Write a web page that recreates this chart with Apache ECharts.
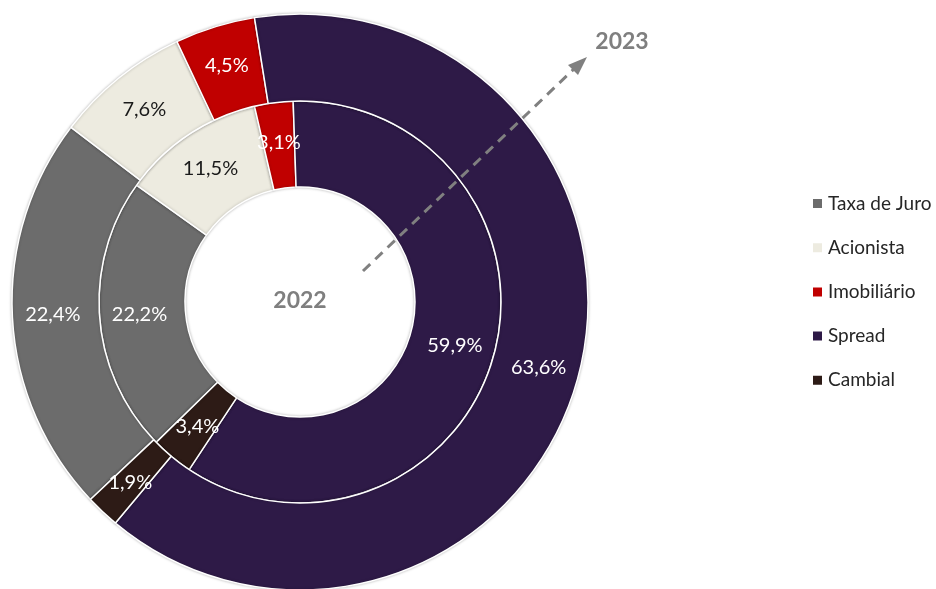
<!DOCTYPE html>
<html>
<head>
<meta charset="utf-8">
<script src="https://cdn.jsdelivr.net/npm/echarts@6/dist/echarts.min.js"></script>
<style>html,body{margin:0;padding:0;background:#fff;}#c{width:936px;height:589px;}</style>
</head>
<body>
<div id="c"></div>
<script>
var categories = ['Taxa de Juro', 'Acionista', 'Imobiliário', 'Spread', 'Cambial'];
var values2022 = [22.2, 11.5, 3.1, 59.9, 3.4];
var values2023 = [22.4, 7.6, 4.5, 63.6, 1.9];
var colors = ['#6C6C6C', '#EDEBE0', '#C00000', '#2E1A47', '#2D1B16'];
var labelColors = ['#ffffff', '#1a1a1a', '#ffffff', '#ffffff', '#ffffff'];
var ringLabels = ['2022', '2023'];

function makeData(vals) {
  return categories.map(function (name, i) {
    return {
      name: name,
      value: vals[i],
      itemStyle: { color: colors[i] },
      label: { color: labelColors[i] }
    };
  });
}
function fmt(p) { return p.value.toFixed(1).replace('.', ',') + '%'; }

var chart = echarts.init(document.getElementById('c'));
var font = 'Lato, "Open Sans", sans-serif';
chart.setOption({
  animation: false,
  color: colors,
  legend: {
    orient: 'vertical',
    left: 811,
    top: 194,
    padding: 0,
    itemWidth: 11,
    itemHeight: 11,
    itemGap: 25.2,
    icon: 'rect',
    data: categories,
    textStyle: { fontFamily: font, fontSize: 19, color: '#262626' }
  },
  series: [
    {
      type: 'pie',
      name: ringLabels[0],
      center: [300, 302],
      radius: [115, 201],
      startAngle: -135.7,
      clockwise: true,
      avoidLabelOverlap: false,
      label: { show: true, position: 'inside', formatter: fmt, fontFamily: font, fontSize: 20 },
      labelLine: { show: false },
      itemStyle: { borderColor: '#ffffff', borderWidth: 1.5, shadowBlur: 3, shadowColor: 'rgba(0,0,0,0.25)' },
      emphasis: { disabled: true },
      data: makeData(values2022)
    },
    {
      type: 'pie',
      name: ringLabels[1],
      center: [300, 302],
      radius: [201, 288],
      startAngle: -136.7,
      clockwise: true,
      avoidLabelOverlap: false,
      label: { show: true, position: 'inside', formatter: fmt, fontFamily: font, fontSize: 20 },
      labelLine: { show: false },
      itemStyle: { borderColor: '#ffffff', borderWidth: 1.5, shadowBlur: 3, shadowColor: 'rgba(0,0,0,0.25)' },
      emphasis: { disabled: true },
      data: makeData(values2023)
    }
  ],
  graphic: [
    {
      type: 'text', x: 300, y: 301,
      style: { text: ringLabels[0], fill: '#7F7F7F', font: 'bold 23px ' + font, textAlign: 'center', textVerticalAlign: 'middle' }
    },
    {
      type: 'text', x: 622, y: 42,
      style: { text: ringLabels[1], fill: '#7F7F7F', font: 'bold 23px ' + font, textAlign: 'center', textVerticalAlign: 'middle' }
    },
    {
      type: 'line',
      shape: { x1: 363, y1: 271, x2: 576, y2: 67 },
      style: { stroke: '#808080', lineWidth: 3, lineDash: [10, 7] },
      z: 10
    },
    {
      type: 'polygon',
      shape: { points: [[587, 57], [568, 65], [578, 75]] },
      style: { fill: '#808080' },
      z: 10
    }
  ]
});
</script>
</body>
</html>
